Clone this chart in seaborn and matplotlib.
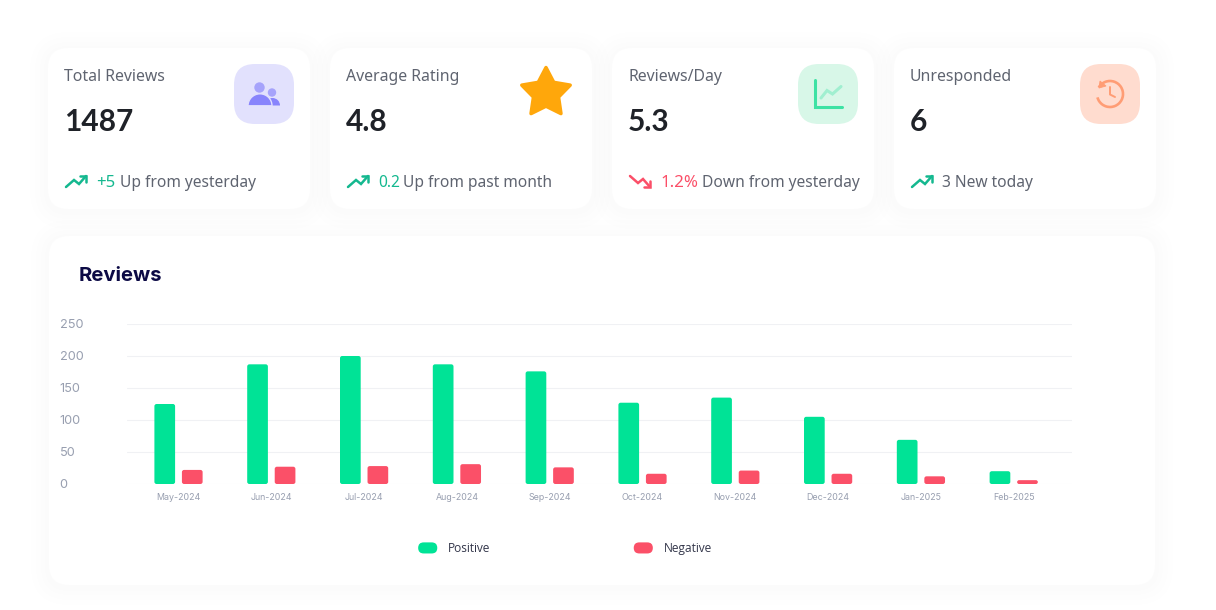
import numpy as np
import pandas as pd
import matplotlib
matplotlib.use("Agg")
import matplotlib.pyplot as plt
import seaborn as sns
from matplotlib.patches import FancyBboxPatch, Circle, Polygon, Wedge, Patch, Arc
from matplotlib.legend_handler import HandlerPatch

months = ["May-2024", "Jun-2024", "Jul-2024", "Aug-2024", "Sep-2024",
          "Oct-2024", "Nov-2024", "Dec-2024", "Jan-2025", "Feb-2025"]
positive = [125, 187, 200, 187, 176, 127, 135, 105, 69, 20]
negative = [22, 27, 28, 31, 26, 16, 21, 16, 12, 6]
series_names = ["Positive", "Negative"]
series_colors = ["#00e396", "#fb5068"]

card_titles = ["Total Reviews", "Average Rating", "Reviews/Day", "Unresponded"]
card_values = ["1487", "4.8", "5.3", "6"]
card_deltas = ["+5", "0.2", "1.2%", ""]
card_notes = ["Up from yesterday", "Up from past month", "Down from yesterday", "3 New today"]

W, H = 1216, 610
sns.set_theme(style="white")
plt.rcParams["font.family"] = ["Noto Sans", "DejaVu Sans"]

fig = plt.figure(figsize=(W / 100, H / 100), dpi=100, facecolor="white")
bg = fig.add_axes([0, 0, 1, 1], zorder=0)
bg.set_xlim(0, W)
bg.set_ylim(H, 0)
bg.axis("off")


def card(x0, y0, x1, y1, r=20):
    for grow, a in [(18, 0.004), (13, 0.005), (8, 0.005), (4, 0.005)]:
        bg.add_patch(FancyBboxPatch((x0 - grow, y0 - grow + 2), x1 - x0 + 2 * grow, y1 - y0 + 2 * grow,
                                    boxstyle=f"round,pad=0,rounding_size={r + grow}",
                                    fc="#30405a", ec="none", alpha=a, zorder=1))
    bg.add_patch(FancyBboxPatch((x0, y0), x1 - x0, y1 - y0,
                                boxstyle=f"round,pad=0,rounding_size={r}",
                                fc="white", ec="none", zorder=2))


def icon_box(x0, color):
    bg.add_patch(FancyBboxPatch((x0, 64), 60, 60,
                                boxstyle="round,pad=0,rounding_size=21",
                                fc=color, ec="none", zorder=3))


def trend(x, up=True):
    c = "#14b88f" if up else "#fb4f68"
    pts = np.array([(0, 12), (8, 5), (13, 9), (20, 1)], float)
    head = np.array([(13.5, 0.8), (20, 0.8), (20, 7)], float)
    if not up:
        pts[:, 1] = 13 - pts[:, 1]
        head[:, 1] = 13 - head[:, 1]
    bg.plot(x + pts[:, 0], 175 + pts[:, 1], color=c, lw=1.8, zorder=4, solid_joinstyle="miter")
    bg.plot(x + head[:, 0], 175 + head[:, 1], color=c, lw=1.8, zorder=4, solid_joinstyle="miter")


for x0, x1 in [(48, 310), (330, 592), (612, 874), (894, 1156)]:
    card(x0, 48, x1, 209)
card(49, 236, 1155, 585)

TEXT_GREY = "#5f6470"
DARK = "#1f2228"
title_x = [64, 346, 628, 910]
for x, t, v in zip(title_x, card_titles, card_values):
    bg.text(x, 77, t, fontsize=11.4, color=TEXT_GREY, va="center", ha="left", zorder=5)
    bg.text(x, 122, v, fontsize=21.5, color=DARK, fontweight="bold",
            family=["Lato", "DejaVu Sans"], va="center", ha="left", zorder=5)

delta_x = [96, 378, 660]
delta_sizes = [12.0, 11.2, 12.2]
note_x = [120, 403, 702, 942]
delta_c = ["#14b88f", "#14b88f", "#fb4f68"]
for x, d, c, s in zip(delta_x, card_deltas, delta_c, delta_sizes):
    bg.text(x, 183, d, fontsize=s, color=c, va="center", ha="left", zorder=5)
for x, n in zip(note_x, card_notes):
    bg.text(x, 183, n, fontsize=11.2, color=TEXT_GREY, va="center", ha="left", zorder=5)
trend(66)
trend(348)
trend(630, up=False)
trend(912)

# icons
icon_box(234, "#e2e1fd")
icon_box(798, "#d8f7e8")
icon_box(1080, "#ffdccf")

bg.add_patch(Circle((259.5, 87.5), 5.2, fc="#a6a3fb", ec="none", zorder=4))
bg.add_patch(Circle((272, 92.5), 4.2, fc="#a6a3fb", ec="none", zorder=4))
bg.add_patch(Wedge((272.5, 105.5), 7.5, 180, 360, fc="#8884fc", ec="none", zorder=4))
bg.add_patch(Wedge((260, 105.8), 12, 180, 360, fc="#8884fc", ec="#e2e1fd", lw=1.0, zorder=5))

ang = np.deg2rad(np.arange(10) * 36 - 90)
rad = np.where(np.arange(10) % 2 == 0, 25.5, 13.2)
star = np.c_[546 + rad * np.cos(ang), 93 + rad * np.sin(ang)]
bg.add_patch(Polygon(star, closed=True, fc="#ffa70b", ec="#ffa70b", lw=2.5, joinstyle="round", zorder=4))

bg.plot([815, 815, 842], [80, 106.5, 106.5], color="#3de2a4", lw=2.2, zorder=4, solid_joinstyle="miter")
bg.plot([821, 827, 832.5, 841], [98, 90.5, 94, 86.5], color="#a0efd0", lw=2.2, zorder=4, solid_joinstyle="miter")

bg.add_patch(Arc((1110, 94), 26, 26, theta1=-150, theta2=165, ec="#ff9d75", lw=1.9, zorder=4))
bg.add_patch(Polygon([(1100, 81), (1106, 86), (1099, 88)], closed=True, fc="#ff9d75", ec="#ff9d75", lw=0.6, zorder=4))
bg.plot([1110, 1110, 1115], [87, 94.5, 97], color="#ff9d75", lw=1.4, zorder=4)

bg.text(79, 276, "Reviews", fontsize=14.6, color="#0c0a45", fontweight="bold",
        family=["Inter", "DejaVu Sans"], va="center", ha="left", zorder=5)

# chart
PL, PR, PT, PB = 127, 1072, 324, 484
ax = fig.add_axes([PL / W, 1 - PB / H, (PR - PL) / W, (PB - PT) / H], zorder=2)
ax.patch.set_alpha(0)
df = pd.DataFrame({
    "month": months * 2,
    "count": positive + negative,
    "kind": [series_names[0]] * len(months) + [series_names[1]] * len(months),
})
sns.barplot(data=df, x="month", y="count", hue="kind", palette=series_colors,
            width=0.593, gap=0.248, legend=False, saturation=1, ax=ax, errorbar=None)
ax.set_xlim(-0.555, 9.628)
ax.set_ylim(0, 250)
ax.set_xlabel("")
ax.set_ylabel("")
ax.set_yticks([0, 50, 100, 150, 200, 250])
ax.grid(axis="y", color="#f0f1f4", lw=0.8)
ax.set_axisbelow(True)
sns.despine(ax=ax, left=True, bottom=True)
ax.tick_params(axis="both", length=0)
ax.tick_params(axis="x", pad=6.5, labelsize=6.4, labelcolor="#989fb0")
ax.tick_params(axis="y", pad=48.5, labelsize=9.2, labelcolor="#989fb0")
for lab in ax.get_yticklabels():
    lab.set_ha("left")
    lab.set_family(["Inter", "DejaVu Sans"])
for lab in ax.get_xticklabels():
    lab.set_family(["Inter", "DejaVu Sans"])

# rounded bar corners, from the geometry seaborn computed
px_x = (PR - PL) / (9.628 + 0.555)
px_y = (PB - PT) / 250
for bar in list(ax.patches):
    x, y, w, h = bar.get_x(), bar.get_y(), bar.get_width(), bar.get_height()
    c = bar.get_facecolor()
    rx = min(2.2 / px_x, w / 2)
    aspect = px_x / px_y
    if h * px_y < 2 * 2.2:
        rx = h * px_y / 2 / px_x
    bar.remove()
    ax.add_patch(FancyBboxPatch((x, y), w, h, boxstyle=f"round,pad=0,rounding_size={rx}",
                                mutation_aspect=aspect, fc=c, ec="none", zorder=3, clip_on=False))


class Pill(HandlerPatch):
    def create_artists(self, legend, orig, xd, yd, width, height, fontsize, trans):
        p = FancyBboxPatch((-xd, -yd), width, height,
                           boxstyle=f"round,pad=0,rounding_size={height / 2}",
                           fc=orig.get_facecolor(), ec="none", transform=trans)
        return [p]


handles = [Patch(color=c, label=n) for c, n in zip(series_colors, series_names)]
leg = ax.legend(handles=handles, ncol=2, loc="center",
                bbox_to_anchor=(565 / W, 1 - 548.5 / H), bbox_transform=fig.transFigure,
                frameon=False, labelcolor="#33364a",
                handler_map={Patch: Pill()}, handlelength=1.6, handleheight=1.05,
                handletextpad=0.9, columnspacing=12,
                prop={"family": ["Open Sans", "DejaVu Sans"], "size": 8.6})

fig.savefig("out.png", dpi=100, facecolor="white")
